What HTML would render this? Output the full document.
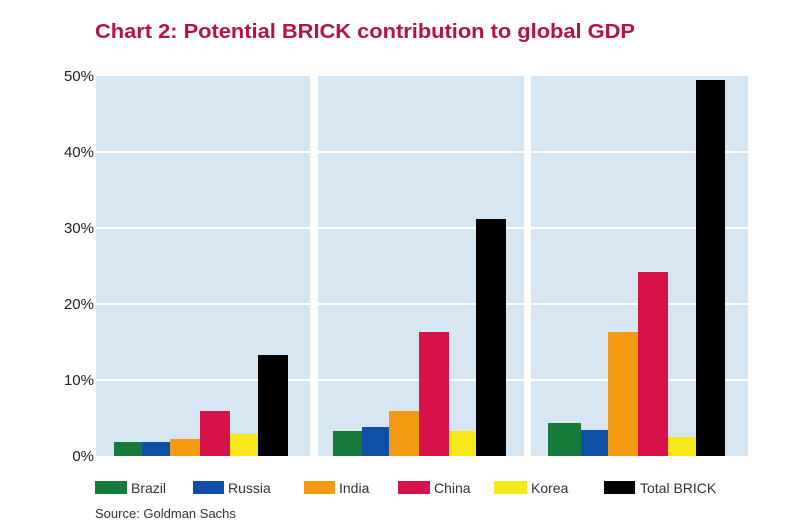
<!DOCTYPE html>
<html><head><meta charset="utf-8"><style>
body{margin:0;background:#fff;width:800px;height:524px;overflow:hidden}
svg{display:block;font-family:"Liberation Sans",sans-serif}
</style></head><body>
<svg width="800" height="524" viewBox="0 0 800 524">
<text x="95" y="38" font-size="20" font-weight="bold" fill="#b8123f" textLength="540" lengthAdjust="spacingAndGlyphs">Chart 2: Potential BRICK contribution to global GDP</text>
<rect x="96" y="76" width="214" height="380" fill="#d6e6f2"/>
<rect x="318" y="76" width="206" height="380" fill="#d6e6f2"/>
<rect x="531" y="76" width="217" height="380" fill="#d6e6f2"/>
<g stroke="#fff" stroke-width="2">
<line x1="96" x2="748" y1="152" y2="152"/><line x1="96" x2="748" y1="228" y2="228"/>
<line x1="96" x2="748" y1="304" y2="304"/><line x1="96" x2="748" y1="380" y2="380"/>
</g>
<g font-size="15" fill="#222" text-anchor="end">
<text x="94" y="81">50%</text><text x="94" y="157">40%</text><text x="94" y="233">30%</text>
<text x="94" y="309">20%</text><text x="94" y="385">10%</text><text x="94" y="461">0%</text>
</g>
<rect x="114" y="442" width="28" height="14" fill="#167a3a"/>
<rect x="142" y="442" width="28" height="14" fill="#0f4fa8"/>
<rect x="170" y="439" width="30" height="17" fill="#f39a12"/>
<rect x="200" y="411" width="30" height="45" fill="#d9124a"/>
<rect x="230" y="434" width="28" height="22" fill="#f7e81a"/>
<rect x="258" y="355" width="30" height="101" fill="#000"/>
<rect x="333" y="431" width="29" height="25" fill="#167a3a"/>
<rect x="362" y="427" width="27" height="29" fill="#0f4fa8"/>
<rect x="389" y="411" width="30" height="45" fill="#f39a12"/>
<rect x="419" y="332" width="30" height="124" fill="#d9124a"/>
<rect x="449" y="431" width="27" height="25" fill="#f7e81a"/>
<rect x="476" y="219" width="30" height="237" fill="#000"/>
<rect x="548" y="423" width="33" height="33" fill="#167a3a"/>
<rect x="581" y="430" width="27" height="26" fill="#0f4fa8"/>
<rect x="608" y="332" width="30" height="124" fill="#f39a12"/>
<rect x="638" y="272" width="30" height="184" fill="#d9124a"/>
<rect x="668" y="437" width="28" height="19" fill="#f7e81a"/>
<rect x="696" y="80" width="29" height="376" fill="#000"/>
<g font-size="14" fill="#333">
<rect x="95" y="481" width="32" height="13" fill="#167a3a"/><text x="131" y="493">Brazil</text>
<rect x="193" y="481" width="31" height="13" fill="#0f4fa8"/><text x="228" y="493">Russia</text>
<rect x="304" y="481" width="31" height="13" fill="#f39a12"/><text x="339" y="493">India</text>
<rect x="398" y="481" width="32" height="13" fill="#d9124a"/><text x="434" y="493">China</text>
<rect x="494" y="481" width="33" height="13" fill="#f7e81a"/><text x="531" y="493">Korea</text>
<rect x="604" y="481" width="31" height="13" fill="#000"/><text x="640" y="493">Total BRICK</text>
<text x="95" y="518" font-size="13">Source: Goldman Sachs</text>
</g>
</svg>
</body></html>
